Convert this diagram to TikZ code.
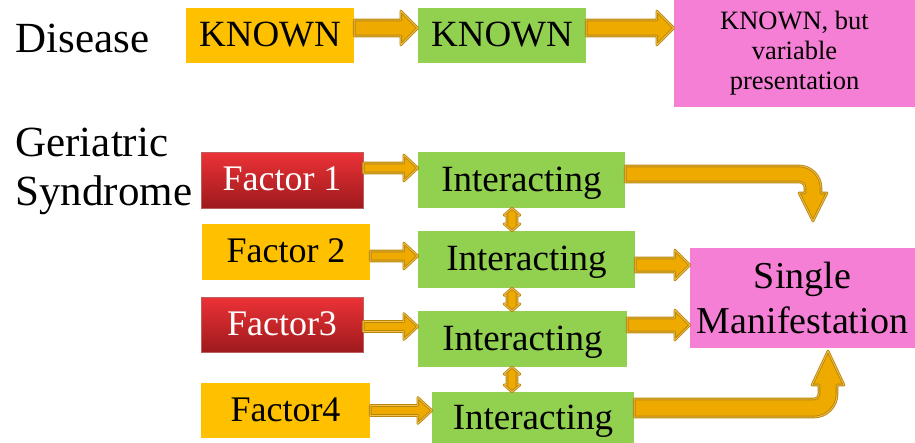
\documentclass[tikz,border=0pt]{standalone}
\usepackage{fontspec}
\setmainfont{Liberation Serif}
\usetikzlibrary{calc}
\definecolor{known}{HTML}{FFC000}
\definecolor{grn}{HTML}{92D050}
\definecolor{pnk}{HTML}{F47FD4}
\definecolor{redtop}{HTML}{EC3237}
\definecolor{redbot}{HTML}{9E1A1C}
\definecolor{arrowfill}{HTML}{EFAA00}
\definecolor{arrowedge}{HTML}{B8860B}
\definecolor{arrowlight}{HTML}{F3C04A}

\tikzset{
  box/.style={rectangle, inner sep=0pt, align=center},
  yellowbox/.style={box, fill=known},
  greenbox/.style={box, fill=grn},
  pinkbox/.style={box, fill=pnk},
  redbox/.style={box, top color=redtop, bottom color=redbot, draw=redbot!70!white, line width=0.5pt, text=white},
  blockarrow/.style={draw=arrowedge, fill=arrowfill, line width=0.9pt, double=arrowlight, double distance=0.8pt, line join=round},
  bigtext/.style={font=\fontsize{43}{49}\selectfont},
  boxtext/.style={font=\fontsize{37}{42}\selectfont, text depth=2pt},
  factortext/.style={font=\fontsize{36}{40}\selectfont, text depth=2pt},
}

% flat arrow: from, to, half shaft, half head, head length
\newcommand{\hblock}[5]{%
  \draw[blockarrow] let \p1=(#1), \p2=(#2) in
    (\x1,\y1+#3pt) -- (\x2-#5pt,\y1+#3pt) -- (\x2-#5pt,\y1+#4pt) -- (\x2,\y1)
    -- (\x2-#5pt,\y1-#4pt) -- (\x2-#5pt,\y1-#3pt) -- (\x1,\y1-#3pt) -- cycle;}
% two-headed arrow between stacked boxes
\newcommand{\vblock}[2]{%
  \draw[blockarrow] let \p1=(#1), \p2=(#2) in
    (\x1,\y1) -- (\x1+8pt,\y1-7pt) -- (\x1+5pt,\y1-7pt) -- (\x1+5pt,\y2+7pt)
    -- (\x1+8pt,\y2+7pt) -- (\x1,\y2) -- (\x1-8pt,\y2+7pt) -- (\x1-5pt,\y2+7pt)
    -- (\x1-5pt,\y1-7pt) -- (\x1-8pt,\y1-7pt) -- cycle;}

\begin{document}
\begin{tikzpicture}[x=1pt, y=-1pt]
  \useasboundingbox (0,0) rectangle (915,442);

  % Disease row
  \node[bigtext, anchor=base west] (dis) at (12,52) {Disease};
  \node[yellowbox, boxtext, minimum width=168pt, minimum height=55pt] (k1) at (270,35.5) {KNOWN};
  \node[greenbox, boxtext, minimum width=168pt, minimum height=55pt] (k2) at (502,35.5) {KNOWN};
  \node[pinkbox, font=\fontsize{26.5}{30}\selectfont, minimum width=241pt, minimum height=107pt] (kv) at (794.5,53.5) {KNOWN, but\\variable\\presentation};

  % Geriatric syndrome rows
  \node[bigtext, anchor=base west] (ger) at (12,156) {Geriatric};
  \node[bigtext, anchor=base west] (syn) at (12,205) {Syndrome};

  \node[redbox, factortext, minimum width=162pt, minimum height=56pt] (f1) at (282,180) {Factor 1};
  \node[yellowbox, factortext, minimum width=168pt, minimum height=56pt] (f2) at (286,252) {Factor 2};
  \node[redbox, factortext, minimum width=162pt, minimum height=55pt] (f3) at (282,324.5) {Factor3};
  \node[yellowbox, factortext, minimum width=169pt, minimum height=55pt] (f4) at (285.5,410.5) {Factor4};

  \node[greenbox, boxtext, minimum width=207pt, minimum height=56pt] (i1) at (521.5,180) {Interacting};
  \node[greenbox, boxtext, minimum width=217pt, minimum height=57pt] (i2) at (526.5,259.5) {Interacting};
  \node[greenbox, boxtext, minimum width=209pt, minimum height=56pt] (i3) at (522.5,339) {Interacting};
  \node[greenbox, boxtext, minimum width=202pt, minimum height=52pt] (i4) at (533,418) {Interacting};

  \node[pinkbox, font=\fontsize{38}{45}\selectfont, minimum width=225pt, minimum height=100pt] (sm) at (802.5,298) {Single\\Manifestation};

  \coordinate (drop) at (813,221);
  \coordinate (rise) at (828,351);

  % arrows
  \hblock{[yshift=7.5pt]k1.east}{k2.west}{8}{17}{17}
  \hblock{[yshift=7.5pt]k2.east}{kv.west}{8}{17}{17}

  \hblock{[yshift=12pt]f1.east}{i1.west}{5}{13}{14}
  \hblock{[yshift=-4pt]f2.east}{i2.west}{5}{13}{14}
  \hblock{[yshift=-2pt]f3.east}{i3.west}{5}{13}{14}
  \hblock{f4.east}{i4.west}{5}{13}{14}

  \hblock{[yshift=-5.5pt]i2.east}{sm.west}{7}{15}{15}
  \hblock{[yshift=14pt]i3.east}{sm.west}{7}{15}{15}

  \vblock{[xshift=-9.5pt]i1.south}{i2.north}
  \vblock{[xshift=-14.5pt]i2.south}{i3.north}
  \vblock{[xshift=-10.5pt]i3.south}{i4.north}

  % bent arrows
  \draw[blockarrow] let \p1=([yshift=6pt]i1.east), \p2=(drop) in
    (\x1,\y1+8pt) -- (\x2-14pt,\y1+8pt) arc[start angle=90, end angle=0, radius=22pt]
    -- (\x2+8pt,\y2+28pt) -- (\x2+14pt,\y2+28pt) -- (\x2,\y2) -- (\x2-14pt,\y2+28pt)
    -- (\x2-8pt,\y2+28pt) -- (\x2-8pt,\y1-14pt) arc[start angle=0, end angle=90, radius=6pt]
    -- (\x1,\y1-8pt) -- cycle;
  \draw[blockarrow] let \p1=([yshift=10pt]i4.east), \p2=(rise) in
    (\x1,\y1-9pt) -- (\x2-14pt,\y1-9pt) arc[start angle=-90, end angle=0, radius=23pt]
    -- (\x2+9pt,\y2-34pt) -- (\x2+16pt,\y2-34pt) -- (\x2,\y2) -- (\x2-16pt,\y2-34pt)
    -- (\x2-9pt,\y2-34pt) -- (\x2-9pt,\y1+14pt) arc[start angle=0, end angle=-90, radius=5pt]
    -- (\x1,\y1+9pt) -- cycle;
\end{tikzpicture}
\end{document}
